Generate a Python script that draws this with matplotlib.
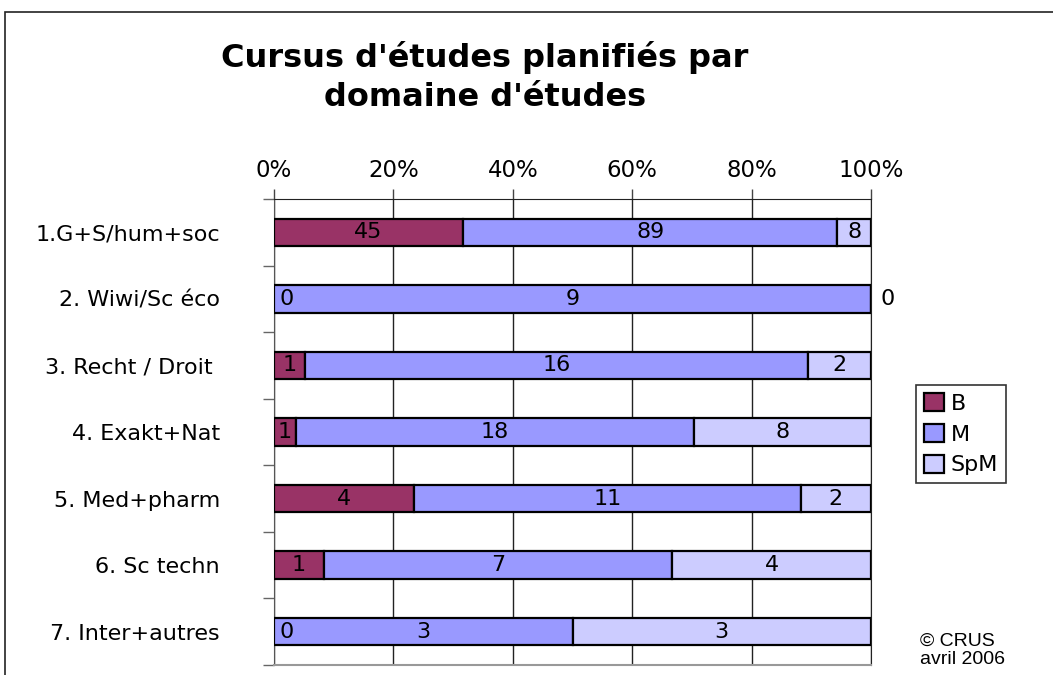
import matplotlib
matplotlib.use("Agg")
import matplotlib.pyplot as plt
from matplotlib.patches import Rectangle
import numpy as np

categories = ["1.G+S/hum+soc", "2. Wiwi/Sc éco", "3. Recht / Droit ", "4. Exakt+Nat",
              "5. Med+pharm", "6. Sc techn", "7. Inter+autres"]
series_names = ["B", "M", "SpM"]
B = [45, 0, 1, 1, 4, 1, 0]
M = [89, 9, 16, 18, 11, 7, 3]
SpM = [8, 0, 2, 8, 2, 4, 3]
colors = ["#993366", "#9999FF", "#CCCCFF"]
xtick_vals = [0, 20, 40, 60, 80, 100]

plt.rcParams['font.family'] = ['DejaVu Sans']
fig = plt.figure(figsize=(10.53, 6.75), dpi=100)

# outer frame
fig.patches.append(Rectangle((5/1053, -0.1), 1.2, 1 - 12/675 + 0.1, transform=fig.transFigure,
                             fill=False, edgecolor="#222222", linewidth=1.2))

ax = fig.add_axes([274/1053, 1 - 665/675, 597/1053, (665 - 199)/675])
data = np.array([B, M, SpM], dtype=float)
totals = data.sum(axis=0)
pct = data / totals * 100
y = np.arange(len(categories))
left = np.zeros(len(categories))
fs = 16
for i, name in enumerate(series_names):
    ax.barh(y, pct[i], left=left, height=0.41, color=colors[i], edgecolor="black",
            linewidth=1.6, label=name, zorder=3)
    for j in range(len(categories)):
        v = data[i, j]
        if v == 0:
            off = 4 if i == 0 else 7
            ax.annotate(f"{int(v)}", (left[j], y[j]), xytext=(off, 0), textcoords="offset points",
                        ha="left", va="center", fontsize=fs, zorder=4, annotation_clip=False)
        else:
            ax.text(left[j] + pct[i, j] / 2, y[j], f"{int(v)}", ha="center", va="center",
                    fontsize=fs, zorder=4)
    left = left + pct[i]

ax.set_xlim(0, 100)
ax.set_ylim(6.5, -0.5)
ax.xaxis.tick_top()
ax.set_xticks(xtick_vals)
ax.set_xticklabels([f"{v}%" for v in xtick_vals], fontsize=16.5)
ax.tick_params(axis="x", length=7, width=1, color="#444444", pad=5)
ax.grid(axis="x", color="#222222", linewidth=1, zorder=0)

ax.set_yticks(np.arange(-0.5, 7, 1))
ax.set_yticklabels([])
ax.set_yticks(y, minor=True)
ax.set_yticklabels(categories, minor=True, fontsize=16)
ax.tick_params(axis="y", which="major", length=8, color="#666666", width=1)
ax.tick_params(axis="y", which="minor", length=0, pad=39)

ax.spines["right"].set_color("#222222")
ax.spines["top"].set_color("#222222")
ax.spines["left"].set_color("#555555")
ax.spines["bottom"].set_color("#999999")
ax.spines["bottom"].set_linewidth(1.5)

fig.text(485/1053, 1 - 77/675, "Cursus d'études planifiés par\ndomaine d'études",
         ha="center", va="center", fontsize=23, fontweight="bold", linespacing=1.3)

leg = fig.legend(loc="upper left", bbox_to_anchor=(916/1053, 1 - 385/675), fontsize=16,
                 frameon=True, fancybox=False, edgecolor="black", handlelength=0.9,
                 handleheight=0.9, handletextpad=0.3, borderpad=0.35, labelspacing=0.45,
                 borderaxespad=0)
leg.get_frame().set_linewidth(1.2)

fig.text(920/1053, 1 - 650/675, "© CRUS\navril 2006", family="Liberation Sans",
         fontsize=14, ha="left", va="center", linespacing=1.1)

fig.savefig("out.png", dpi=100)
